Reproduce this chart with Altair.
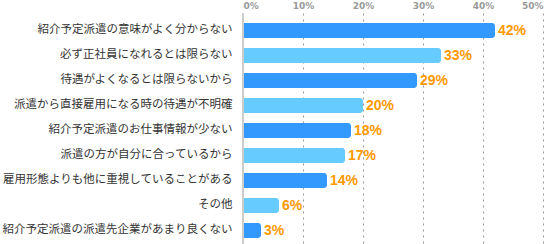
import altair as alt
import pandas as pd

categories = [
    "紹介予定派遣の意味がよく分からない",
    "必ず正社員になれるとは限らない",
    "待遇がよくなるとは限らないから",
    "派遣から直接雇用になる時の待遇が不明確",
    "紹介予定派遣のお仕事情報が少ない",
    "派遣の方が自分に合っているから",
    "雇用形態よりも他に重視していることがある",
    "その他",
    "紹介予定派遣の派遣先企業があまり良くない",
]
values = [42, 33, 29, 20, 18, 17, 14, 6, 3]
shade = ["a", "b", "a", "b", "a", "b", "a", "b", "a"]

df = pd.DataFrame({"cat": categories, "val": values, "shade": shade})
df["label"] = df["val"].astype(str) + "%"

font = "Noto Sans CJK JP"

y = alt.Y(
    "cat:N",
    sort=categories,
    title=None,
    scale=alt.Scale(paddingInner=0, paddingOuter=0.12, align=0.83),
    axis=alt.Axis(
        domain=False, ticks=False, labelFontSize=11.5, labelColor="#333333",
        labelFont=font, labelPadding=11, labelLimit=300,
    ),
)
x = alt.X(
    "val:Q",
    title=None,
    scale=alt.Scale(domain=[0, 50], nice=False),
    axis=alt.Axis(
        orient="top", values=[0, 10, 20, 30, 40, 50], labelExpr="datum.value + '%'",
        domain=False, ticks=False, grid=True, gridColor="#999999", gridDash=[2, 4],
        gridWidth=1, labelFontSize=9, labelColor="#999999", labelFont="DejaVu Sans",
        labelPadding=3, labelFontWeight="bold",
    ),
)

bars = alt.Chart(df).mark_bar(size=15, cornerRadiusEnd=3).encode(
    x=x,
    y=y,
    color=alt.Color("shade:N", scale=alt.Scale(domain=["a", "b"], range=["#3399FF", "#66CCFF"]), legend=None),
)
text = alt.Chart(df).mark_text(
    align="left", baseline="middle", dx=3, dy=1, fontSize=14, fontWeight="bold",
    color="#FF9900", font="Liberation Sans",
).encode(x="val:Q", y=alt.Y("cat:N", sort=categories), text="label:N")

zero = alt.Chart(pd.DataFrame({"z": [0]})).mark_rule(color="#cccccc", strokeWidth=2).encode(x="z:Q")

chart = alt.layer(bars, text, zero).properties(
    width=300, height=231,
    padding={"left": 243, "top": 13, "right": 11, "bottom": 0},
    autosize=alt.AutoSizeParams(type="none"),
).configure_view(stroke=None)

chart.save("out.html", embed_options={"renderer": "svg", "actions": False})
